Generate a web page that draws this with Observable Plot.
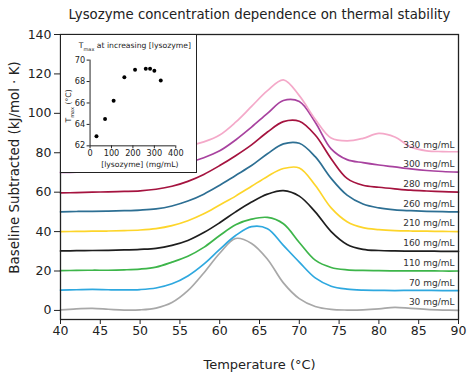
<!DOCTYPE html>
<html>
<head>
<meta charset="utf-8">
<script src="https://cdn.jsdelivr.net/npm/d3@7"></script>
<script src="https://cdn.jsdelivr.net/npm/@observablehq/plot@0.6"></script>
<style>
  html, body { margin: 0; padding: 0; background: white; }
  #wrap { position: relative; width: 471px; height: 372px; }
  #inset { position: absolute; left: 60px; top: 34px; width: 137px; height: 139px; background: white; border: 1.3px solid #222; box-sizing: border-box; }
  #inset svg { position: absolute; left: -1.3px; top: -1.3px; }
</style>
</head>
<body>
<div id="wrap"><div id="main"></div><div id="inset"></div></div>
<script>
const FONT = "DejaVu Sans, sans-serif";
const title = "Lysozyme concentration dependence on thermal stability";
const xLabel = "Temperature (°C)";
const yLabel = "Baseline Subtracted (kJ/mol · K)";
const xTicks = [40, 45, 50, 55, 60, 65, 70, 75, 80, 85, 90];
const yTicks = [0, 20, 40, 60, 80, 100, 120, 140];

const conc = ["30 mg/mL", "70 mg/mL", "110 mg/mL", "160 mg/mL", "210 mg/mL", "260 mg/mL", "280 mg/mL", "300 mg/mL", "330 mg/mL"];
const offsets = [0, 10, 20, 30, 40, 50, 60, 70, 80];
const colors = ["#a8a8a8", "#2ea8df", "#3db54a", "#1e1e1e", "#fdd52a", "#2d6f93", "#a5133f", "#a8429f", "#f4a9c9"];

const temps = [40, 42, 44, 46, 48, 50, 52, 54, 56, 58, 60, 62, 64, 66, 68, 70, 72, 74, 76, 78, 80, 82, 84, 86, 88, 90];
const s30  = [0.3, 0.8, 1.0, 0.6, 0.2, 0.3, 1.2, 4, 10, 19, 29, 36.5, 34, 26, 14, 6, 2, 0.5, 0.2, 0.3, 0.8, 1.6, 1.0, 0.5, 0.2, 0];
const s70  = [10.3, 10.5, 10.7, 10.5, 10.4, 10.6, 11.4, 13.5, 17.5, 23.5, 31, 38, 42.5, 41.5, 33, 24.5, 16.5, 12.3, 10.8, 10.3, 10.2, 10.1, 10.2, 10.2, 10.1, 10];
const s110 = [20.2, 20.3, 20.4, 20.4, 20.6, 21, 22, 24.5, 27.5, 32, 38, 43.5, 46.3, 47.2, 44, 34.5, 25.5, 21.8, 20.6, 20.3, 20.2, 20.1, 20.1, 20.1, 20, 20];
const s160 = [30.2, 30.3, 30.4, 30.5, 30.7, 31, 31.5, 33, 35.5, 39.5, 44.5, 50, 55, 59, 60.8, 58, 50, 40, 33.5, 31, 30.4, 30.2, 30.1, 30.1, 30, 30];
const s210 = [40, 40.1, 40.2, 40.3, 40.5, 40.8, 41.5, 43, 45.5, 49, 53.5, 58, 63, 68, 72, 72.3, 63.5, 52, 45, 42, 41, 40.5, 40.3, 40.2, 40.1, 40];
const s260 = [50, 50.2, 50.3, 50.4, 50.6, 50.9, 51.5, 53, 55.5, 59, 63.5, 68.5, 73.5, 79.5, 84.5, 84.8, 78, 67, 58.5, 54, 52, 51, 50.6, 50.3, 50.1, 50];
const s280 = [59.6, 59.8, 60, 60.2, 60.4, 60.7, 61.5, 63, 65.5, 69, 73.5, 78.5, 84, 90.5, 95.8, 96, 89, 77, 67, 63.5, 62.5, 61.7, 61, 60.6, 60.3, 60];
const s300 = [70, 70.1, 70.2, 70.3, 70.6, 71, 71.8, 73, 75, 77.5, 81, 86.5, 93, 100, 106.5, 106, 95.5, 82, 76.5, 75, 73.8, 72.8, 71.8, 71, 70.5, 70.2];
const s330 = [80.3, 80.4, 80.5, 80.6, 80.8, 81, 81.5, 82.5, 83.5, 85.5, 89, 95.5, 103.5, 111.5, 117, 109, 97, 87.5, 86, 87.3, 89.8, 88, 83, 81, 80.6, 80.5];
const series = [s30, s70, s110, s160, s210, s260, s280, s300, s330];

// inset data
const insetConc = [30, 70, 110, 160, 210, 260, 280, 300, 330];
const insetTmax = [62.9, 64.5, 66.2, 68.4, 69.1, 69.2, 69.2, 69.0, 68.1];
const insetTitle = "Tmax at increasing [lysozyme]";
const insetXLabel = "[lysozyme] (mg/mL)";
const insetYLabel = "Tmax (°C)";
const insetXTicks = [0, 100, 200, 300, 400];
const insetYTicks = [62, 64, 66, 68, 70];

const rows = conc.flatMap((c, i) => temps.map((t, j) => ({c, t, v: series[i][j]})));
const labelRows = conc.map((c, i) => ({c, y: offsets[i]}));

const main = Plot.plot({
  width: 471, height: 372,
  marginTop: 34, marginRight: 13, marginBottom: 53, marginLeft: 60,
  style: {fontFamily: FONT, fontSize: "12px", color: "#222", background: "white"},
  x: {domain: [40, 90]},
  y: {domain: [-4.6, 140]},
  color: {domain: conc, range: colors},
  marks: [
    Plot.line(rows, {x: "t", y: "v", z: "c", stroke: "c", curve: "catmull-rom", strokeWidth: 1.7}),
    Plot.text(labelRows, {y: "y", text: "c", frameAnchor: "right", textAnchor: "end", dx: -4, dy: -8, fontSize: 9, fill: "#333"}),
    Plot.axisX({ticks: xTicks, tickSize: 5, tickPadding: 2, label: null, fontSize: 12.5}),
    Plot.axisY({ticks: yTicks, tickSize: 6, tickPadding: 3, label: null, fontSize: 12.5}),
    Plot.frame({stroke: "#222", strokeWidth: 1.3}),
    Plot.text([title], {frameAnchor: "top", lineAnchor: "middle", dy: -20, fontSize: 13.3, fill: "#222"}),
    Plot.text([xLabel], {frameAnchor: "bottom", lineAnchor: "middle", dy: 45, fontSize: 13, fill: "#222"}),
    Plot.text([yLabel], {frameAnchor: "left", textAnchor: "middle", lineAnchor: "middle", dx: -46, dy: -9.5, rotate: -90, fontSize: 13.4, fill: "#222"})
  ]
});
document.getElementById("main").appendChild(main);

const insetRows = insetConc.map((c, i) => ({c, t: insetTmax[i]}));
const inset = Plot.plot({
  width: 137, height: 139,
  marginTop: 26, marginRight: 20, marginBottom: 26, marginLeft: 30,
  style: {fontFamily: FONT, fontSize: "8px", color: "#222", background: "transparent"},
  x: {domain: [0, 400]},
  y: {domain: [62, 70]},
  marks: [
    Plot.dot(insetRows, {x: "c", y: "t", r: 2, fill: "black"}),
    Plot.axisX({ticks: insetXTicks, tickSize: 3, tickPadding: 1, label: null, fontSize: 8.3}),
    Plot.axisY({ticks: insetYTicks, tickSize: 3, tickPadding: 2, label: null, fontSize: 8.3}),
    Plot.ruleX([0], {stroke: "#222"}),
    Plot.ruleY([62], {stroke: "#222"}),
    Plot.text([insetTitle], {frameAnchor: "top", lineAnchor: "middle", dy: -15, dx: 2, fontSize: 7.8, fill: "#222"}),
    Plot.text([insetXLabel], {frameAnchor: "bottom", lineAnchor: "middle", dy: 19, dx: 7, fontSize: 7.8, fill: "#222"}),
    Plot.text([insetYLabel], {frameAnchor: "left", textAnchor: "middle", lineAnchor: "middle", dx: -22, dy: 3, rotate: -90, fontSize: 7.8, fill: "#222"})
  ]
});
document.getElementById("inset").appendChild(inset);

d3.select(inset).selectAll("text").each(function() {
  const txt = this.textContent;
  if (!txt.startsWith("Tmax")) return;
  const rest = txt.slice(4);
  const el = d3.select(this);
  el.text(null);
  el.append("tspan").text("T");
  el.append("tspan").attr("baseline-shift", "sub").attr("font-size", "0.65em").text("max");
  el.append("tspan").text(rest);
});
</script>
</body>
</html>
